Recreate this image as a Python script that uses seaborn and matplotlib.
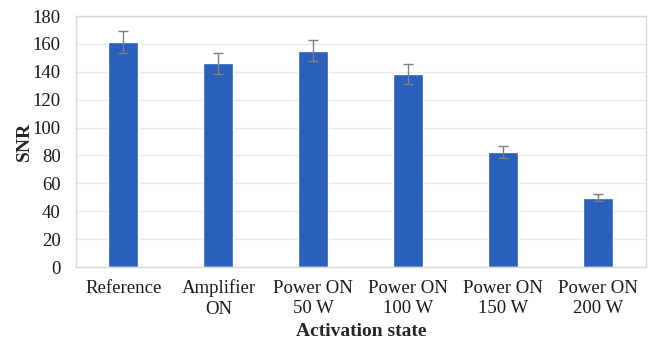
import pandas as pd
import matplotlib
matplotlib.use('Agg')
import matplotlib.pyplot as plt
import seaborn as sns

# data
states = ['Reference', 'Amplifier\nON', 'Power ON\n50 W', 'Power ON\n100 W', 'Power ON\n150 W', 'Power ON\n200 W']
snr = [161.5, 146, 155, 138.5, 82.5, 49.5]
snr_err = [8, 7.5, 7.5, 7, 4, 2.5]

df = pd.DataFrame({'state': states, 'SNR': snr})

sns.set_theme(style='white')
plt.rcParams['font.family'] = ['Liberation Serif', 'DejaVu Serif']

fig = plt.figure(figsize=(6.49, 3.41), dpi=100)
ax = fig.add_axes([0.117, 0.217, 0.878, 0.736])

sns.barplot(data=df, x='state', y='SNR', color='#2A5FBA', width=0.316,
            saturation=1, errorbar=None, ax=ax, zorder=2)
ax.errorbar(range(len(states)), snr, yerr=snr_err, fmt='none',
            ecolor='#7F7F7F', elinewidth=1, capsize=3.5, capthick=1, zorder=3)

ax.set_ylim(0, 180)
ax.set_yticks(range(0, 181, 20))
ax.set_xlim(-0.5, len(states) - 0.5)
ax.grid(axis='y', color='#E9E9E9', linewidth=1, zorder=0)
ax.set_axisbelow(True)
for s in ax.spines.values():
    s.set_color('#D9D9D9')
    s.set_linewidth(1)

ax.tick_params(axis='both', labelsize=13.5, length=0, colors='#1a1a1a')
ax.tick_params(axis='y', pad=11)
ax.tick_params(axis='x', pad=9)
for lab in ax.get_xticklabels():
    lab.set_linespacing(1.25)
ax.set_xlabel('Activation state', fontsize=14, fontweight='bold', labelpad=4)
ax.set_ylabel('SNR', fontsize=14, fontweight='bold', labelpad=0)

fig.savefig('out.png', dpi=100)
